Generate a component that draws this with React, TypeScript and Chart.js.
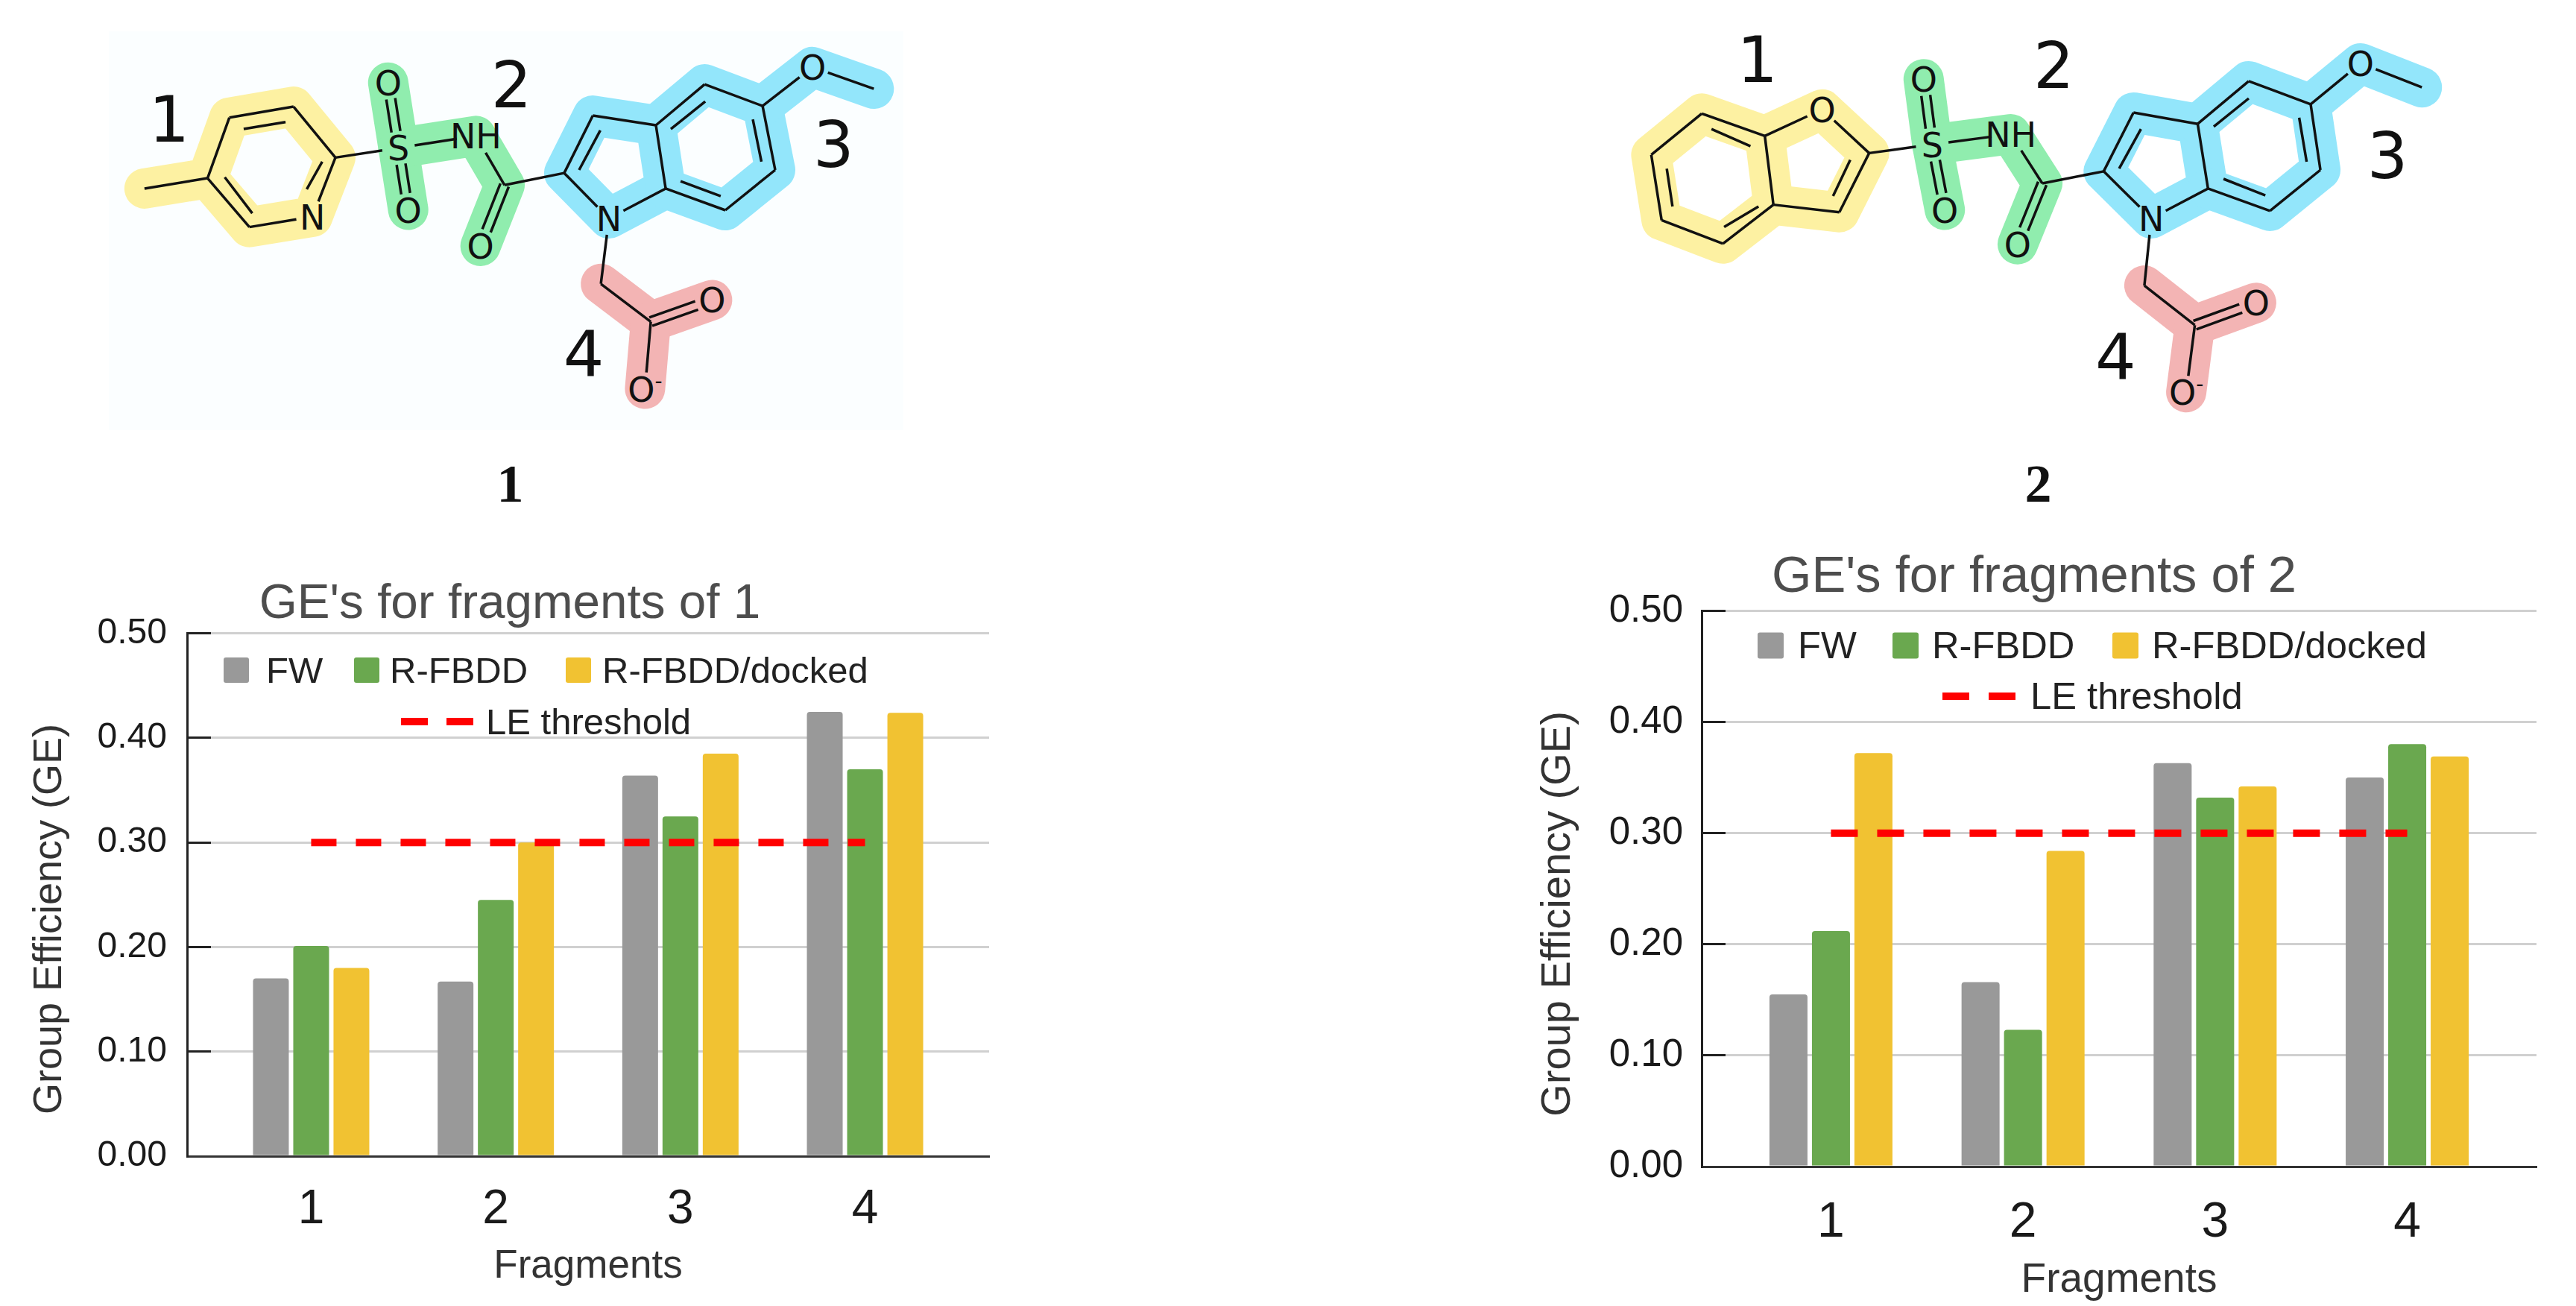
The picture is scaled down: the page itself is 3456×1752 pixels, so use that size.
import React, { useEffect, useRef } from 'react';
import Chart from 'chart.js/auto';

const fragments = ['1', '2', '3', '4'];
const yTickLabels = ['0.00', '0.10', '0.20', '0.30', '0.40', '0.50'];
const seriesNames = ['FW', 'R-FBDD', 'R-FBDD/docked'];
const thresholdName = 'LE threshold';
const thresholdValue = 0.3;

const fwValues1 = [0.17, 0.167, 0.364, 0.425];
const rfbddValues1 = [0.201, 0.245, 0.325, 0.37];
const dockedValues1 = [0.18, 0.3, 0.385, 0.424];

const fwValues2 = [0.155, 0.166, 0.363, 0.35];
const rfbddValues2 = [0.212, 0.123, 0.332, 0.38];
const dockedValues2 = [0.372, 0.284, 0.342, 0.369];

const GRAY = '#999999';
const GREEN = '#6aa84f';
const GOLD = '#f1c232';
const RED = '#ff0000';
const FONT = '"Liberation Sans", Arial, sans-serif';

type Layout = {
    title: string;
    values: number[][];
    left: number;
    top: number;
    width: number;
    height: number;
    areaLeft: number;
    areaRight: number;
    areaBottom: number;
    titleX: number;
    titleSize: number;
    titlePad: [number, number];
    tickSize: number;
    tickPad: number;
    xTickSize: number;
    xTickPad: number;
    axisSize: number;
    xTitlePad: number;
    margin: number;
    catPct: number;
    barPct: number;
    lineDash: [number, number];
    yTitleSize: number;
    yTitleX: number;
    yTitleY: number;
    legendSize: number;
    boxSize: number;
    row1Y: number;
    row2Y: number;
    boxX: number[];
    textX: number[];
    dashX: [number, number];
    dashTextX: number;
    dash: [number, number];
};

const chart1: Layout = {
    title: "GE's for fragments of 1",
    values: [fwValues1, rfbddValues1, dockedValues1],
    left: 0, top: 740, width: 1374, height: 1012,
    areaLeft: 251, areaRight: 1327, areaBottom: 1551,
    titleX: 684, titleSize: 65.6, titlePad: [32, -1],
    tickSize: 48, tickPad: 27, xTickSize: 64, xTickPad: 26,
    axisSize: 53, xTitlePad: 21,
    margin: 0.672, catPct: 0.654, barPct: 0.889, lineDash: [34, 26],
    yTitleSize: 54, yTitleX: 67, yTitleY: 1233,
    legendSize: 49, boxSize: 34, row1Y: 902, row2Y: 971,
    boxX: [300, 475, 759], textX: [357, 523, 808],
    dashX: [538, 635], dashTextX: 652, dash: [36, 25],
};

const chart2: Layout = {
    title: "GE's for fragments of 2",
    values: [fwValues2, rfbddValues2, dockedValues2],
    left: 2055, top: 690, width: 1354, height: 1062,
    areaLeft: 2283, areaRight: 3403, areaBottom: 1565,
    titleX: 2729, titleSize: 68.7, titlePad: [44, 3],
    tickSize: 51, tickPad: 25, xTickSize: 66, xTickPad: 28,
    axisSize: 55, xTitlePad: 1,
    margin: 0.673, catPct: 0.6636, barPct: 0.895, lineDash: [36, 26],
    yTitleSize: 56, yTitleX: 2091, yTitleY: 1226,
    legendSize: 50.7, boxSize: 35, row1Y: 869, row2Y: 937,
    boxX: [2358, 2539, 2834], textX: [2412, 2592, 2887],
    dashX: [2606, 2706], dashTextX: 2724, dash: [36, 26],
};

// legend sits inside the plot and off centre, and the y title is off centre too
const overlayPlugin = (l: Layout) => ({
    id: 'overlay',
    afterLayout(chart: any) {
        const block = chart.titleBlock;
        const shift = l.titleX - l.left - (block.left + block.right) / 2;
        block.left += shift;
        block.right += shift;
    },
    afterDraw(chart: any) {
        const ctx = chart.ctx;
        const sets = chart.data.datasets;
        ctx.save();
        ctx.translate(-l.left, -l.top);
        ctx.font = `${l.legendSize}px ${FONT}`;
        ctx.textBaseline = 'middle';
        ctx.textAlign = 'left';
        l.boxX.forEach((x, i) => {
            ctx.fillStyle = sets[i].backgroundColor;
            ctx.beginPath();
            ctx.roundRect(x, l.row1Y - 3 - l.boxSize / 2, l.boxSize, l.boxSize, 3);
            ctx.fill();
            ctx.fillStyle = '#222222';
            ctx.fillText(sets[i].label, l.textX[i], l.row1Y);
        });
        ctx.strokeStyle = RED;
        ctx.lineWidth = 10;
        ctx.setLineDash(l.dash);
        ctx.beginPath();
        ctx.moveTo(l.dashX[0], l.row2Y - 3);
        ctx.lineTo(l.dashX[1], l.row2Y - 3);
        ctx.stroke();
        ctx.setLineDash([]);
        ctx.fillStyle = '#222222';
        ctx.fillText(sets[3].label, l.dashTextX, l.row2Y);

        ctx.translate(l.yTitleX, l.yTitleY);
        ctx.rotate(-Math.PI / 2);
        ctx.textAlign = 'center';
        ctx.font = `${l.yTitleSize}px ${FONT}`;
        ctx.fillStyle = '#333333';
        ctx.fillText('Group Efficiency (GE)', 0, 0);
        ctx.restore();
    },
});

const makeConfig = (l: Layout): any => {
    const xs = fragments.map(Number);
    const colors = [GRAY, GREEN, GOLD];
    return {
        type: 'bar',
        data: {
            datasets: [
                ...l.values.map((vals, i) => ({
                    type: 'bar',
                    label: seriesNames[i],
                    data: vals.map((y, k) => ({ x: xs[k], y })),
                    backgroundColor: colors[i],
                    borderRadius: 4,
                    categoryPercentage: l.catPct,
                    barPercentage: l.barPct,
                    order: 1,
                })),
                {
                    type: 'line',
                    label: thresholdName,
                    data: xs.map((x) => ({ x, y: thresholdValue })),
                    borderColor: RED,
                    borderWidth: 10,
                    borderDash: l.lineDash,
                    pointRadius: 0,
                    fill: false,
                    order: 0,
                },
            ],
        },
        options: {
            animation: false,
            responsive: false,
            devicePixelRatio: 1,
            layout: { padding: { right: l.left + l.width - l.areaRight } },
            plugins: {
                legend: { display: false },
                tooltip: { enabled: false },
                title: {
                    display: true,
                    text: l.title,
                    color: '#4d4d4d',
                    font: { family: FONT, size: l.titleSize, weight: 'normal' },
                    padding: { top: l.titlePad[0], bottom: l.titlePad[1] },
                },
            },
            scales: {
                x: {
                    type: 'linear',
                    offset: false,
                    min: 1 - l.margin,
                    max: 4 + l.margin,
                    grid: { display: false, offset: false },
                    border: { color: '#333333', width: 3 },
                    afterBuildTicks: (scale: any) => {
                        scale.ticks = xs.map((value) => ({ value }));
                    },
                    afterFit: (scale: any) => {
                        scale.height = l.top + l.height - l.areaBottom;
                    },
                    ticks: {
                        color: '#1a1a1a',
                        padding: l.xTickPad,
                        maxRotation: 0,
                        autoSkip: false,
                        font: { family: FONT, size: l.xTickSize },
                        callback: (_v: number, i: number) => fragments[i],
                    },
                    title: {
                        display: true,
                        text: 'Fragments',
                        color: '#333333',
                        font: { family: FONT, size: l.axisSize },
                        padding: { top: 0, bottom: l.xTitlePad },
                    },
                },
                y: {
                    min: 0,
                    max: 0.5,
                    afterFit: (scale: any) => {
                        scale.width = l.areaLeft - l.left;
                    },
                    grid: { color: '#d0d0d0', lineWidth: 3, tickColor: '#222222', tickWidth: 3, tickLength: -32 },
                    border: { color: '#222222', width: 3 },
                    ticks: {
                        stepSize: 0.1,
                        color: '#1a1a1a',
                        padding: l.tickPad + 32,
                        font: { family: FONT, size: l.tickSize },
                        callback: (_v: number, i: number) => yTickLabels[i],
                    },
                },
            },
        },
        plugins: [overlayPlugin(l)],
    };
};

const BarChart = ({ layout }: { layout: Layout }) => {
    const ref = useRef<HTMLCanvasElement>(null);

    useEffect(() => {
        const chart = new Chart(ref.current as any, makeConfig(layout));
        return () => {
            chart.destroy();
        };
    }, []);

    return (
        <canvas
            ref={ref}
            width={layout.width}
            height={layout.height}
            style={{ position: 'absolute', left: layout.left, top: layout.top, width: layout.width, height: layout.height }}
        />
    );
};

type Pt = [number, number];
type Molecule = {
    originX: number;
    atoms: Record<string, Pt>;
    labels: Record<string, string>;
    bonds: string[];
    doubles: string[];
    inner: [Pt, Pt][];
    yellow: string[];
    green: string[];
    blue: string[];
    pink: string[];
    numbers: [string, number, number][];
    name: string;
    nameAt: Pt;
};

const sideChain = ['S O1', 'S O2', 'C8 O3', 'C20 O5'];
const mainBonds = [
    'S NH', 'NH C8', 'C8 Ca', 'Ca Cb', 'Cb Cc', 'Cc Cd', 'Cd N1', 'N1 Ca', 'Cc Ce', 'Ce Cf', 'Cf Cg', 'Cg Ch', 'Ch Cd',
    'Cf O4', 'O4 Me', 'N1 CH2', 'CH2 C20', 'C20 O6',
];
const mainLabels = { S: 'S', O1: 'O', O2: 'O', NH: 'NH', O3: 'O', N1: 'N', O4: 'O', O5: 'O', O6: 'O-' };
const greenPaths = ['O1 S O2', 'S NH C8 O3'];
const bluePaths = ['Ca Cb Cc Cd N1 Ca', 'Cc Ce Cf Cg Ch Cd', 'Cf O4 Me'];
const pinkPaths = ['CH2 C20 O5', 'C20 O6'];

const molecule1: Molecule = {
    originX: 100,
    atoms: {
        P0: [122, 548], P1: [232, 518], P2: [270, 342], P3: [382, 310], P4: [455, 458], P5: [415, 630], P6: [305, 660],
        S: [565, 430], O1: [547, 240], O2: [582, 610], NH: [700, 395], C8: [750, 538], O3: [708, 715],
        Ca: [854, 503], Cb: [904, 336], Cc: [1014, 364], Cd: [1031, 548], N1: [932, 635], Ce: [1099, 245], Cf: [1200, 308],
        Cg: [1222, 494], Ch: [1135, 611], O4: [1287, 195], Me: [1394, 258], CH2: [918, 825], C20: [1005, 935],
        O5: [1112, 872], O6: [995, 1130],
    },
    labels: { ...mainLabels, P5: 'N' },
    bonds: ['P0 P1', 'P1 P2', 'P2 P3', 'P3 P4', 'P4 P5', 'P5 P6', 'P6 P1', 'P4 S', ...mainBonds],
    doubles: sideChain,
    inner: [
        [[295, 375], [368, 355]], [[432, 470], [405, 550]], [[310, 620], [262, 515]],
        [[880, 494], [917, 379]], [[1040, 375], [1100, 295]], [[1183, 347], [1198, 470]], [[1057, 527], [1127, 570]],
    ],
    yellow: ['P0 P1 P2 P3 P4 P5 P6 P1'],
    green: greenPaths,
    blue: bluePaths,
    pink: pinkPaths,
    numbers: [['1', 165, 345], ['2', 762, 245], ['3', 1324, 418], ['4', 888, 1027]],
    name: '1',
    nameAt: [760, 1406],
};

const molecule2: Molecule = {
    originX: 2150,
    atoms: {
        P0: [85, 450], P1: [173, 330], P2: [283, 395], P3: [383, 318], P4: [465, 445], P5: [413, 617], P6: [298, 595],
        P7: [210, 708], P8: [103, 640],
        S: [575, 420], O1: [560, 230], O2: [597, 610], NH: [712, 390], C8: [767, 533], O3: [724, 710],
        Ca: [874, 498], Cb: [926, 327], Cc: [1038, 360], Cd: [1056, 548], N1: [957, 635], Ce: [1127, 236], Cf: [1235, 303],
        Cg: [1252, 494], Ch: [1164, 613], O4: [1322, 184], Me: [1429, 254], CH2: [945, 830], C20: [1033, 945],
        O5: [1140, 880], O6: [1018, 1140],
    },
    labels: { ...mainLabels, P3: 'O' },
    bonds: ['P0 P1', 'P1 P2', 'P2 P3', 'P3 P4', 'P4 P5', 'P5 P6', 'P6 P2', 'P6 P7', 'P7 P8', 'P8 P0', 'P4 S', ...mainBonds],
    doubles: sideChain,
    inner: [
        [[190, 375], [258, 425]], [[432, 465], [402, 570]], [[272, 600], [212, 660]], [[122, 600], [112, 490]],
        [[901, 490], [939, 375]], [[1066, 368], [1127, 286]], [[1215, 342], [1228, 470]], [[1083, 520], [1156, 568]],
    ],
    yellow: ['P0 P1 P2 P3 P4 P5 P6 P7 P8 P0', 'P2 P6'],
    green: greenPaths,
    blue: bluePaths,
    pink: pinkPaths,
    numbers: [['1', 270, 172], ['2', 787, 188], ['3', 1369, 451], ['4', 895, 1035]],
    name: '2',
    nameAt: [760, 1407],
};

const MoleculeDrawing = ({ mol }: { mol: Molecule }) => {
    const px = ([x, y]: Pt): Pt => [mol.originX + (x * 1200) / 1560, (y * 720) / 1560];
    const at = (k: string) => px(mol.atoms[k]);
    const trimmed = (a: string, b: string): [Pt, Pt] => {
        const p = at(a);
        const q = at(b);
        const d = Math.hypot(q[0] - p[0], q[1] - p[1]);
        const ux = (q[0] - p[0]) / d;
        const uy = (q[1] - p[1]) / d;
        const ta = mol.labels[a] ? (mol.labels[a] === 'NH' ? 26 : 22) : 0;
        const tb = mol.labels[b] ? (mol.labels[b] === 'NH' ? 26 : 22) : 0;
        return [[p[0] + ux * ta, p[1] + uy * ta], [q[0] - ux * tb, q[1] - uy * tb]];
    };
    const highlight = (paths: string[], color: string) =>
        paths.map((path, i) => (
            <polyline
                key={color + i}
                points={path.split(' ').map((k) => at(k).join(',')).join(' ')}
                fill="none"
                stroke={color}
                strokeWidth={54}
                strokeLinecap="round"
                strokeLinejoin="round"
            />
        ));
    const line = (p: Pt, q: Pt, key: string) => (
        <line key={key} x1={p[0]} y1={p[1]} x2={q[0]} y2={q[1]} stroke="#111111" strokeWidth={3.5} />
    );

    return (
        <g>
            {highlight(mol.yellow, '#fdf1a2')}
            {highlight(mol.green, '#90edae')}
            {highlight(mol.blue, '#93e6fb')}
            {highlight(mol.pink, '#f3b4b4')}
            {mol.bonds.map((b) => {
                const [a, c] = b.split(' ');
                const [p, q] = trimmed(a, c);
                return line(p, q, b);
            })}
            {mol.doubles.map((b) => {
                const [a, c] = b.split(' ');
                const [p, q] = trimmed(a, c);
                const d = Math.hypot(q[0] - p[0], q[1] - p[1]);
                const nx = (-(q[1] - p[1]) / d) * 6;
                const ny = ((q[0] - p[0]) / d) * 6;
                return (
                    <g key={b}>
                        {line([p[0] + nx, p[1] + ny], [q[0] + nx, q[1] + ny], 'a')}
                        {line([p[0] - nx, p[1] - ny], [q[0] - nx, q[1] - ny], 'b')}
                    </g>
                );
            })}
            {mol.inner.map(([p, q], i) => line(px(p), px(q), 'i' + i))}
            {Object.entries(mol.labels).map(([k, label]) => {
                const [x, y] = at(k);
                const charged = label === 'O-';
                return (
                    <text key={k} x={x} y={y + 17} textAnchor="middle" fontFamily="DejaVu Sans" fontSize={46} fill="#111111">
                        {charged ? 'O' : label}
                        {charged && <tspan dy={-18} fontSize={28}>-</tspan>}
                    </text>
                );
            })}
            {mol.numbers.map(([label, x, y]) => {
                const [tx, ty] = px([x, y]);
                return (
                    <text key={label} x={tx} y={ty + 31} textAnchor="middle" fontFamily="DejaVu Sans" fontSize={86} fill="#111111">
                        {label}
                    </text>
                );
            })}
            <text
                x={px(mol.nameAt)[0]}
                y={px(mol.nameAt)[1] + 24}
                textAnchor="middle"
                fontFamily="Liberation Serif"
                fontWeight="bold"
                fontSize={72}
                fill="#111111"
            >
                {mol.name}
            </text>
        </g>
    );
};

const App = () => (
    <div style={{ position: 'fixed', left: 0, top: 0, width: 3456, height: 1752, background: '#ffffff', overflow: 'hidden' }}>
        <svg width={3456} height={720} style={{ position: 'absolute', left: 0, top: 0 }}>
            <rect x={146} y={42} width={1066} height={535} fill="#fbfeff" />
            <MoleculeDrawing mol={molecule1} />
            <MoleculeDrawing mol={molecule2} />
        </svg>
        <BarChart layout={chart1} />
        <BarChart layout={chart2} />
    </div>
);

export default App;
